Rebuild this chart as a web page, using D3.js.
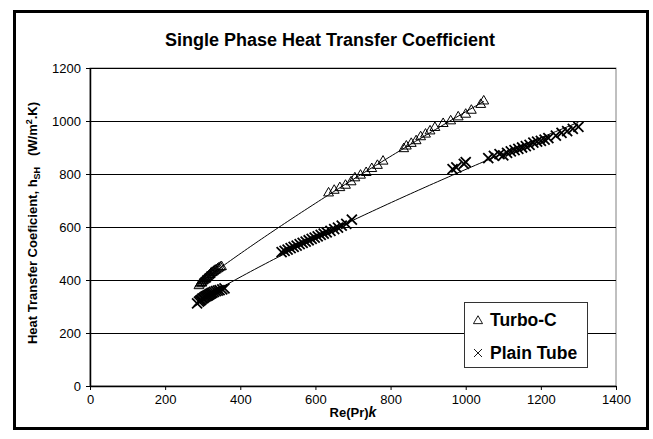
<!DOCTYPE html>
<html><head><meta charset="utf-8">
<script src="https://cdn.jsdelivr.net/npm/d3@7"></script>
<style>body{margin:0;background:#fff}svg{display:block;font-family:Arial,"Liberation Sans",sans-serif}</style>
</head><body><svg id="c" width="653" height="439"></svg>
<script>
const title = "Single Phase Heat Transfer Coefficient";
const xTicks = [0,200,400,600,800,1000,1200,1400];
const yTicks = [0,200,400,600,800,1000,1200];
const seriesNames = ["Turbo-C","Plain Tube"];
const turboX = [290,293,296,298,300,302,305,307,309,311,313,316,318,320,322,325,328,330,333,336,340,343,347,350,
  635,650,665,680,695,705,720,735,750,765,780,
  835,842,855,868,880,893,905,918,
  940,960,980,1000,1015,1040,1048];
const turboY = [378,385,390,388,395,398,400,405,403,410,412,415,418,420,425,428,430,433,436,438,442,445,448,450,
  728,738,748,757,770,785,795,805,820,832,848,
  895,905,915,925,940,950,962,975,
  990,1000,1015,1025,1040,1062,1075];
const plainX = [285,290,293,296,299,302,305,308,311,314,317,320,323,326,330,335,340,345,352,358,
  510,518,526,534,542,550,558,566,574,582,590,598,606,614,622,630,640,650,660,670,682,697,
  965,975,995,1000,
  1060,1075,1090,1100,1110,1120,1130,1140,1150,1160,1170,1180,1190,1200,1210,1220,1240,1255,1270,1285,1300];
const plainY = [312,318,322,325,330,332,335,338,340,342,345,348,350,352,355,358,360,362,365,368,
  505,510,515,520,525,530,535,540,545,550,555,560,565,570,575,580,585,592,598,605,612,628,
  818,825,838,845,
  860,868,875,870,880,885,890,895,900,905,910,918,922,925,930,935,945,955,962,970,978];

const svg = d3.select("#c");
const L=90,R=616,T=68,B=386;
const x = d3.scaleLinear().domain([0,1400]).range([L,R]);
const y = d3.scaleLinear().domain([0,1200]).range([B,T]);

svg.append("rect").attr("x",14.5).attr("y",11.5).attr("width",633).attr("height",417)
  .attr("fill","#fff").attr("stroke","#000").attr("stroke-width",3);

svg.append("text").attr("x",330).attr("y",46).attr("text-anchor","middle")
  .attr("font-weight","bold").attr("font-size",18).text(title);

svg.append("rect").attr("x",L).attr("y",T).attr("width",R-L).attr("height",B-T)
  .attr("fill","none").attr("stroke","#808080").attr("stroke-width",1);
svg.append("g").selectAll("line").data(yTicks.slice(1)).join("line")
  .attr("x1",L).attr("x2",R).attr("y1",d=>Math.round(y(d))+0.5).attr("y2",d=>Math.round(y(d))+0.5)
  .attr("stroke","#000").attr("stroke-width",1);

const xAxis = svg.append("g").attr("transform",`translate(0,${B})`)
  .call(d3.axisBottom(x).tickValues(xTicks).tickFormat(d3.format("d")).tickSize(4).tickSizeOuter(0).tickPadding(5));
const yAxis = svg.append("g").attr("transform",`translate(${L},0)`)
  .call(d3.axisLeft(y).tickValues(yTicks).tickFormat(d3.format("d")).tickSize(4).tickSizeOuter(0).tickPadding(5));
[xAxis,yAxis].forEach(g=>{
  g.selectAll("text").attr("font-size",13).attr("font-family","Arial, 'Liberation Sans', sans-serif").attr("fill","#000");
  g.selectAll("line,path").attr("stroke","#000");
  g.select("path").attr("stroke-width",1.5);
});

const xt = svg.append("text").attr("x",353).attr("y",417).attr("text-anchor","middle")
  .attr("font-weight","bold").attr("font-size",13);
xt.append("tspan").text("Re(Pr)");
xt.append("tspan").attr("font-style","italic").attr("font-size",14).text("k");

const yt = svg.append("text").attr("transform","translate(37,223) rotate(-90)").attr("text-anchor","middle")
  .attr("font-weight","bold").attr("font-size",13);
yt.append("tspan").text("Heat Transfer Coeficient, h");
yt.append("tspan").attr("font-size",9).attr("dy",3).text("SH");
yt.append("tspan").attr("dy",-3).text("\u00a0\u00a0\u00a0(W/m");
yt.append("tspan").attr("font-size",9).attr("dy",-5).text("2");
yt.append("tspan").attr("dy",5).text(".K)");

function powerFit(xs,ys){
  const n=xs.length; let sx=0,sy=0,sxx=0,sxy=0;
  for(let i=0;i<n;i++){const a=Math.log(xs[i]),b=Math.log(ys[i]);sx+=a;sy+=b;sxx+=a*a;sxy+=a*b;}
  const bb=(n*sxy-sx*sy)/(n*sxx-sx*sx); const aa=Math.exp((sy-bb*sx)/n);
  return v=>aa*Math.pow(v,bb);
}
function trend(xs,ys){
  const f=powerFit(xs,ys); const lo=d3.min(xs),hi=d3.max(xs);
  const pts=d3.range(0,101).map(i=>{const v=lo+(hi-lo)*i/100;return [x(v),y(f(v))];});
  svg.append("path").attr("d",d3.line()(pts)).attr("fill","none").attr("stroke","#000").attr("stroke-width",1);
}
trend(turboX,turboY);
trend(plainX,plainY);

const tri = d3.symbol().type(d3.symbolTriangle).size(42);
svg.append("g").selectAll("path").data(turboX.map((v,i)=>[v,turboY[i]])).join("path")
  .attr("d",tri).attr("transform",d=>`translate(${x(d[0])},${y(d[1])})`)
  .attr("fill","none").attr("stroke","#000").attr("stroke-width",1);
const cr=5;
svg.append("g").selectAll("path").data(plainX.map((v,i)=>[v,plainY[i]])).join("path")
  .attr("d",`M${-cr},${-cr}L${cr},${cr}M${-cr},${cr}L${cr},${-cr}`)
  .attr("transform",d=>`translate(${x(d[0])},${y(d[1])})`)
  .attr("fill","none").attr("stroke","#000").attr("stroke-width",1.8);

const lg = svg.append("g");
lg.append("rect").attr("x",464.5).attr("y",302.5).attr("width",123).attr("height",65)
  .attr("fill","#fff").attr("stroke","#333").attr("stroke-width",1);
lg.append("path").attr("d",d3.symbol().type(d3.symbolTriangle).size(36)())
  .attr("transform","translate(478,321)").attr("fill","none").attr("stroke","#000").attr("stroke-width",0.9);
lg.append("path").attr("d","M-4,-4L4,4M-4,4L4,-4")
  .attr("transform","translate(478,353)").attr("fill","none").attr("stroke","#000").attr("stroke-width",0.9);
lg.append("text").attr("x",490).attr("y",326).attr("font-weight","bold").attr("font-size",17.5).text(seriesNames[0]);
lg.append("text").attr("x",490).attr("y",359).attr("font-weight","bold").attr("font-size",17.5).text(seriesNames[1]);
</script></body></html>
